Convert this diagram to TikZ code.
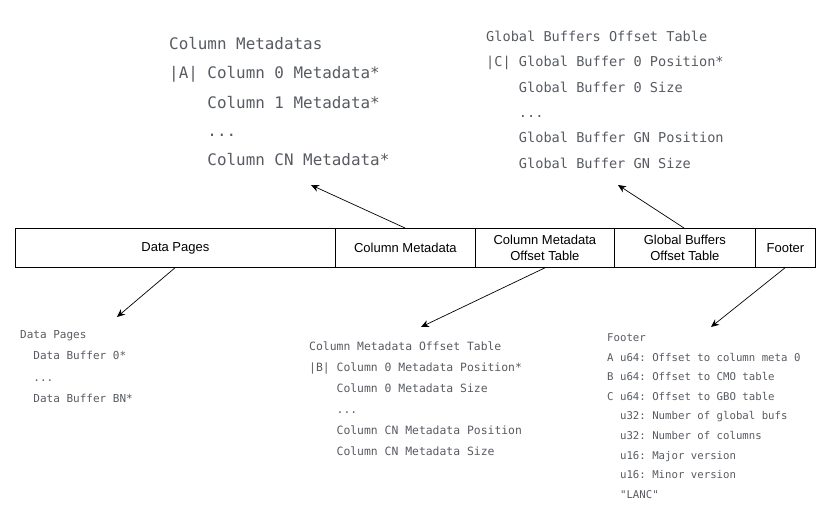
\documentclass[tikz,border=0pt]{standalone}
\usepackage{fontspec}
\setmainfont{Liberation Sans}
\setmonofont{DejaVu Sans Mono}
\usetikzlibrary{arrows.meta}
\definecolor{txtgray}{RGB}{88,92,98}
\tikzset{
  cell/.style={draw=black, line width=0.8pt, minimum height=39pt, inner sep=0pt, anchor=north west,
    font=\fontsize{13}{16}\selectfont, align=center},
  codeblk/.style={anchor=base west, inner sep=0pt, align=left, text=txtgray},
  ptr/.style={draw=black, line width=0.7pt, -{Stealth[length=8pt,width=7pt]}},
}
\begin{document}
\begin{tikzpicture}[x=1pt,y=-1pt]
\useasboundingbox (0,0) rectangle (833,524);
\fill[white] (0,0) rectangle (833,524);

% top row of cells
\node[cell, minimum width=320pt] (dp) at (15,228) {Data Pages};
\node[cell, minimum width=140pt] (cm) at (335,228) {Column Metadata};
\node[cell, minimum width=139pt] (cmo) at (475,228) {Column Metadata\\Offset Table};
\node[cell, minimum width=141pt] (gbo) at (614,228) {Global Buffers\\Offset Table};
\node[cell, minimum width=60pt] (ft) at (755,228) {Footer};

% text blocks (base anchor = baseline of the last line)
\node[codeblk, font=\ttfamily\fontsize{15.9}{29}\selectfont] (tcm) at (169,166)
{Column Metadatas\\
|A| Column 0 Metadata*\\
\hphantom{xxxx}Column 1 Metadata*\\
\hphantom{xxxx}...\\
\hphantom{xxxx}Column CN Metadata*};

\node[codeblk, font=\ttfamily\fontsize{13.6}{25.3}\selectfont] (tgb) at (486,168)
{Global Buffers Offset Table\\
|C| Global Buffer 0 Position*\\
\hphantom{xxxx}Global Buffer 0 Size\\
\hphantom{xxxx}...\\
\hphantom{xxxx}Global Buffer GN Position\\
\hphantom{xxxx}Global Buffer GN Size};

\node[codeblk, font=\ttfamily\fontsize{11}{21.3}\selectfont] (tdp) at (20,402.4)
{Data Pages\\
\hphantom{xx}Data Buffer 0*\\
\hphantom{xx}...\\
\hphantom{xx}Data Buffer BN*};

\node[codeblk, font=\ttfamily\fontsize{11.4}{21}\selectfont] (tcmo) at (309,455)
{Column Metadata Offset Table\\
|B| Column 0 Metadata Position*\\
\hphantom{xxxx}Column 0 Metadata Size\\
\hphantom{xxxx}...\\
\hphantom{xxxx}Column CN Metadata Position\\
\hphantom{xxxx}Column CN Metadata Size};

\node[codeblk, font=\ttfamily\fontsize{10.7}{19.6}\selectfont] (tft) at (607,498.3)
{Footer\\
A u64: Offset to column meta 0\\
B u64: Offset to CMO table\\
C u64: Offset to GBO table\\
\hphantom{xx}u32: Number of global bufs\\
\hphantom{xx}u32: Number of columns\\
\hphantom{xx}u16: Major version\\
\hphantom{xx}u16: Minor version\\
\hphantom{xx}"LANC"};

% arrow targets
\coordinate (a1) at (311,185);
\coordinate (a2) at (618,185);
\coordinate (a3) at (117,317);
\coordinate (a4) at (421,327);
\coordinate (a5) at (711,327);

\draw[ptr] (cm.north -| 405,0) -- (a1);
\draw[ptr] (gbo.north -| 684,0) -- (a2);
\draw[ptr] (dp.south -| 175,0) -- (a3);
\draw[ptr] (cmo.south -| 545,0) -- (a4);
\draw[ptr] (ft.south -| 785,0) -- (a5);
\end{tikzpicture}
\end{document}
